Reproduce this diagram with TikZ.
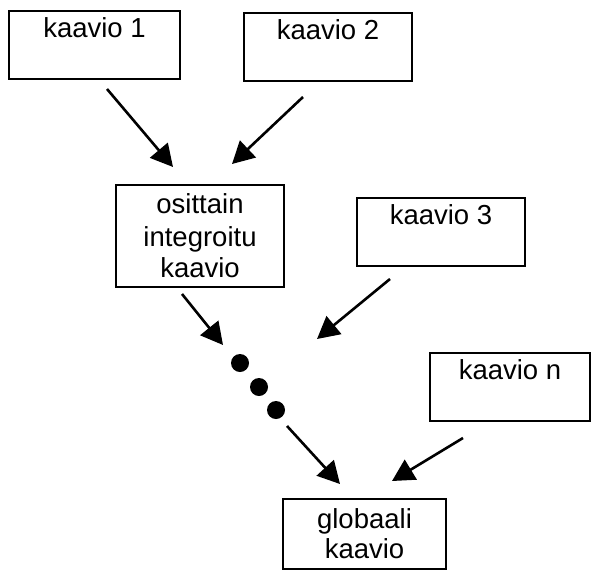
\documentclass[tikz,border=0pt]{standalone}
\usepackage{fontspec}
\setmainfont{Liberation Sans}
\usetikzlibrary{arrows.meta,calc}
\begin{document}
\begin{tikzpicture}[x=1pt,y=-1pt,
  every node/.style={font=\fontsize{27.5}{33}\selectfont},
  topbox/.style={draw,line width=2pt,inner sep=0pt,anchor=north,
    text height=26pt,text depth=42pt},
  midbox/.style={draw,line width=2pt,inner sep=0pt,align=center},
  dotmark/.style={circle,fill,inner sep=0pt,minimum size=18pt},
  arr/.style={line width=2.6pt,-{Triangle[length=22pt,width=23pt]}}]
\useasboundingbox (0,0) rectangle (591,570);

% source diagrams
\node[topbox,minimum width=171pt] (k1) at (94.5,10) {kaavio 1};
\node[topbox,minimum width=168pt] (k2) at (328,12) {kaavio 2};
\node[topbox,minimum width=168pt] (k3) at (441,197) {kaavio 3};
\node[topbox,minimum width=160pt] (kn) at (510,352) {kaavio n};

% intermediate and final diagrams
\node[midbox,minimum width=168pt,minimum height=102pt] (os) at (200,236)
  {osittain\\integroitu\\[-2pt]kaavio};
\node[midbox,minimum width=163pt,minimum height=70pt] (gl) at (364.5,534)
  {globaali\\[-3pt]kaavio};

% ellipsis
\node[dotmark] (d1) at (240,363) {};
\node[dotmark] (d2) at (259,387) {};
\node[dotmark] (d3) at (276,410) {};

% integration steps
\draw[arr] ($(k1.south)+(12.5,9)$) -- ($(os.north)+(-27,-17)$);
\draw[arr] ($(k2.south)+(-25,15)$) -- ($(os.north)+(32,-20)$);
\draw[arr] ($(os.south)+(-18,6)$) -- ($(d1)+(-17,-18)$);
\draw[arr] ($(k3.south)+(-51,12)$) -- ($(d1)+(77,-24)$);
\draw[arr] ($(d3)+(11,16)$) -- ($(gl.north)+(-24.5,-14)$);
\draw[arr] ($(kn.south)+(-47,16)$) -- ($(gl.north)+(27.5,-17)$);
\end{tikzpicture}
\end{document}
